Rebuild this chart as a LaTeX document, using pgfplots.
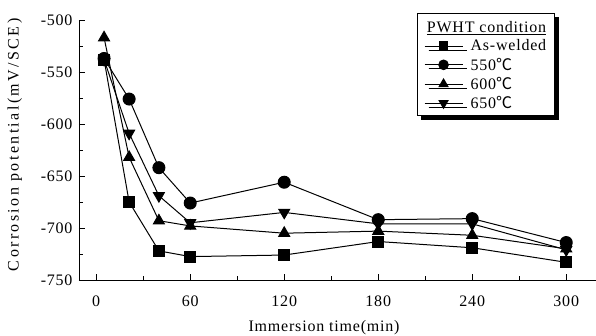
\documentclass[border=0pt]{standalone}
\usepackage{pgfplots}
\pgfplotsset{compat=1.18}
\usepackage{fontspec}
\setmainfont{Liberation Serif}[LetterSpace=5]
\newfontfamily\ylabfont{Liberation Serif}[LetterSpace=15]
\newfontfamily\cjk{Noto Sans CJK SC}
\usetikzlibrary{shadows}
\newcommand{\degC}{{\cjk ℃}}
\begin{document}
\begin{tikzpicture}
\path[use as bounding box] (-79bp,-56bp) rectangle (517bp,280bp);
\begin{axis}[
  scale only axis,
  width=517bp, height=260bp,
  xmin=-11, xmax=319, ymin=-750, ymax=-500,
  axis x line*=bottom, axis y line*=left,
  axis line style={-, line width=0.9bp},
  xtick={0,60,120,180,240,300},
  minor xtick={30,90,150,210,270},
  ytick={-750,-700,-650,-600,-550,-500},
  minor ytick={-725,-675,-625,-575,-525},
  tick align=inside,
  major tick length=6bp, minor tick length=4bp,
  tick style={line width=0.8bp, black},
  /pgf/number format/assume math mode=true,
  /pgf/number format/set thousands separator={},
  ticklabel style={font=\fontsize{16bp}{19bp}\selectfont},
  xticklabel style={yshift=-12bp},
  yticklabel style={xshift=-3bp},
  xlabel={Immersion time(min)},
  ylabel={{\ylabfont Corrosion potential(mV/SCE)}},
  label style={font=\fontsize{16bp}{19bp}\selectfont},
  xlabel style={at={(axis description cs:0.474,0)}, anchor=north, yshift=-37bp},
  ylabel style={at={(axis description cs:-0.124,0.52)}, anchor=center},
  legend cell align=left,
  legend style={name=leg, at={(0.921,1.027)}, anchor=north east,
    font=\fontsize{16bp}{18bp}\selectfont,
    draw=black, line width=0.8bp, fill=white,
    drop shadow={shadow xshift=4bp, shadow yshift=-4bp, fill=black, opacity=1},
    inner xsep=7bp, inner ysep=4bp, nodes={inner sep=1.5bp}, row sep=2.5bp, column sep=6bp},
  legend image code/.code={\draw[mark repeat=2, mark phase=2, #1, every mark/.append style={scale=0.8}] plot coordinates {(0bp,0bp) (19bp,0bp) (38bp,0bp)};},
  every axis plot/.append style={black, line width=1bp},
]
\addlegendimage{empty legend}
\addlegendentry{\rule[-5bp]{0pt}{19bp}}
\addplot[mark=square*, mark size=5.5bp] coordinates {
(5,-538) (21,-675) (40,-722) (60,-727.5) (120,-726) (180,-713) (240,-719) (300,-733)};
\addlegendentry{As-welded}
\addplot[mark=*, mark size=6bp] coordinates {
(5,-537) (21,-576) (40,-642) (60,-676) (120,-656) (180,-692) (240,-691) (300,-714)};
\addlegendentry{550\degC}
\addplot[mark=triangle*, mark size=6.3bp] coordinates {
(5,-517) (21,-632) (40,-693) (60,-698) (120,-705) (180,-703) (240,-707) (300,-720)};
\addlegendentry{600\degC}
\addplot[mark=triangle*, mark size=6.3bp, mark options={rotate=180}] coordinates {
(5,-538) (21,-609) (40,-669) (60,-695) (120,-685) (180,-696) (240,-696) (300,-721)};
\addlegendentry{650\degC}
\end{axis}
\node[anchor=north west, inner sep=0pt, font=\fontsize{16bp}{18bp}\selectfont] at ([xshift=10bp, yshift=-8bp]leg.north west) {\underline{PWHT condition}};
\end{tikzpicture}
\end{document}
